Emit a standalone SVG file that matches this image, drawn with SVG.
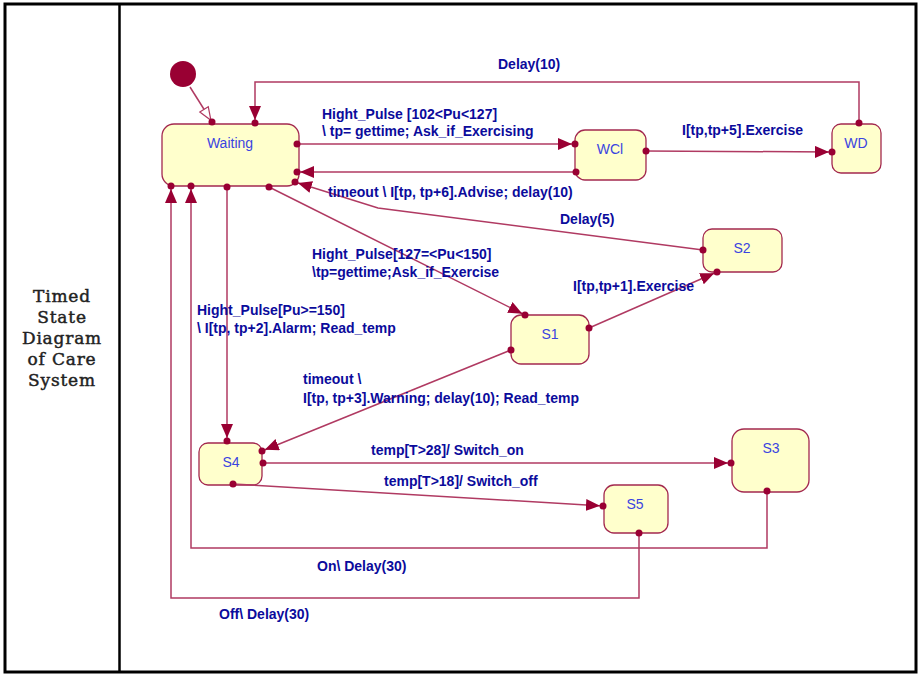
<svg xmlns="http://www.w3.org/2000/svg" width="919" height="675" viewBox="0 0 919 675">
<style>
.frame{fill:none;stroke:#000;stroke-width:3}
.node rect{fill:#ffffcc;stroke:#a3294f;stroke-width:1.3}
.node text{font-family:"Liberation Sans",Arial,sans-serif;font-size:14px;fill:#3a44e0;text-anchor:middle}
.c{fill:none;stroke:#b03a62;stroke-width:1.5}
.dot{fill:#990033}
.lbl{font-family:"Liberation Sans",Arial,sans-serif;font-size:14px;font-weight:bold;fill:#0b0b9c}
.side{font-family:"DejaVu Serif","Liberation Serif",serif;font-size:17px;fill:#222;stroke:#222;stroke-width:0.45;letter-spacing:0.8px;text-anchor:middle}
</style>
<defs>
<marker id="arr" markerUnits="userSpaceOnUse" markerWidth="20" markerHeight="14" viewBox="0 0 20 14" refX="17" refY="6" orient="auto">
<path d="M0,0 L14,6 L0,12 z" fill="#990033"/>
</marker>
<marker id="open" markerUnits="userSpaceOnUse" markerWidth="20" markerHeight="14" viewBox="0 0 20 14" refX="16" refY="6" orient="auto">
<path d="M1,1 L14,6 L1,11 z" fill="#fff" stroke="#b03a62" stroke-width="1.2"/>
</marker>
</defs>
<rect width="919" height="675" fill="#fff"/>
<rect class="frame" x="5" y="4" width="911" height="668"/>
<line x1="119.5" y1="4" x2="119.5" y2="672" stroke="#000" stroke-width="2.5"/>
<g id="title">
<text class="side" x="62" y="302">Timed</text>
<text class="side" x="62" y="323">State</text>
<text class="side" x="62" y="344">Diagram</text>
<text class="side" x="62" y="365">of Care</text>
<text class="side" x="62" y="386">System</text>
</g>
<g id="initial"><circle cx="183" cy="74" r="13" fill="#990033"/></g>
<g id="Waiting" class="node"><rect x="162" y="124" width="137" height="62" rx="12"/><text x="230" y="148">Waiting</text></g>
<g id="WCl" class="node"><rect x="575" y="130" width="71" height="50" rx="10"/><text x="610" y="154">WCl</text></g>
<g id="WD" class="node"><rect x="832" y="124" width="49" height="49" rx="9"/><text x="856" y="148">WD</text></g>
<g id="S2" class="node"><rect x="703" y="229" width="79" height="43" rx="9"/><text x="742" y="253">S2</text></g>
<g id="S1" class="node"><rect x="511" y="315" width="78" height="49" rx="10"/><text x="550" y="339">S1</text></g>
<g id="S4" class="node"><rect x="199" y="443" width="63" height="42" rx="9"/><text x="231" y="467">S4</text></g>
<g id="S3" class="node"><rect x="732" y="429" width="77" height="63" rx="12"/><text x="771" y="453">S3</text></g>
<g id="S5" class="node"><rect x="604" y="485" width="64" height="48" rx="10"/><text x="635" y="509">S5</text></g>
<g id="connectors">
<path class="c" d="M190,87 L212,122" marker-end="url(#open)"/>
<path class="c" d="M859,123 L859,82 L255,82 L255,123" marker-end="url(#arr)"/>
<path class="c" d="M297,144 L575,144" marker-end="url(#arr)"/>
<path class="c" d="M576,172 L297,172" marker-end="url(#arr)"/>
<path class="c" d="M646,151 L832,152" marker-end="url(#arr)"/>
<path class="c" d="M703,250 L378,208 L295,182" marker-end="url(#arr)"/>
<path class="c" d="M269,187 L525,315" marker-end="url(#arr)"/>
<path class="c" d="M589,328 L717,272" marker-end="url(#arr)"/>
<path class="c" d="M227,187 L227,441" marker-end="url(#arr)"/>
<path class="c" d="M511,350 L262,451" marker-end="url(#arr)"/>
<path class="c" d="M263,463 L731,463" marker-end="url(#arr)"/>
<path class="c" d="M233,484 L603,506" marker-end="url(#arr)"/>
<path class="c" d="M767,491 L767,548 L191,548 L191,186" marker-end="url(#arr)"/>
<path class="c" d="M639,533 L639,598 L171,598 L171,186" marker-end="url(#arr)"/>
<g class="dots">
<circle class="dot" cx="212" cy="122" r="3.5"/>
<circle class="dot" cx="859" cy="123" r="3.5"/>
<circle class="dot" cx="255" cy="123" r="3.5"/>
<circle class="dot" cx="297" cy="144" r="3.5"/>
<circle class="dot" cx="575" cy="144" r="3.5"/>
<circle class="dot" cx="576" cy="172" r="3.5"/>
<circle class="dot" cx="297" cy="172" r="3.5"/>
<circle class="dot" cx="646" cy="151" r="3.5"/>
<circle class="dot" cx="832" cy="152" r="3.5"/>
<circle class="dot" cx="703" cy="250" r="3.5"/>
<circle class="dot" cx="295" cy="182" r="3.5"/>
<circle class="dot" cx="269" cy="187" r="3.5"/>
<circle class="dot" cx="525" cy="315" r="3.5"/>
<circle class="dot" cx="589" cy="328" r="3.5"/>
<circle class="dot" cx="717" cy="272" r="3.5"/>
<circle class="dot" cx="227" cy="187" r="3.5"/>
<circle class="dot" cx="227" cy="441" r="3.5"/>
<circle class="dot" cx="511" cy="350" r="3.5"/>
<circle class="dot" cx="262" cy="451" r="3.5"/>
<circle class="dot" cx="263" cy="463" r="3.5"/>
<circle class="dot" cx="731" cy="463" r="3.5"/>
<circle class="dot" cx="233" cy="484" r="3.5"/>
<circle class="dot" cx="603" cy="506" r="3.5"/>
<circle class="dot" cx="767" cy="491" r="3.5"/>
<circle class="dot" cx="191" cy="186" r="3.5"/>
<circle class="dot" cx="639" cy="533" r="3.5"/>
<circle class="dot" cx="171" cy="186" r="3.5"/>
</g>
<g class="labels">
<text class="lbl" x="498" y="69">Delay(10)</text>
<text class="lbl" x="322" y="119">Hight_Pulse [102&lt;Pu&lt;127]</text>
<text class="lbl" x="322" y="136">\ tp= gettime; Ask_if_Exercising</text>
<text class="lbl" x="682" y="135">I[tp,tp+5].Exercise</text>
<text class="lbl" x="328" y="197">timeout \ I[tp, tp+6].Advise; delay(10)</text>
<text class="lbl" x="560" y="224">Delay(5)</text>
<text class="lbl" x="312" y="259">Hight_Pulse[127=&lt;Pu&lt;150]</text>
<text class="lbl" x="312" y="277">\tp=gettime;Ask_if_Exercise</text>
<text class="lbl" x="573" y="291">I[tp,tp+1].Exercise</text>
<text class="lbl" x="197" y="315">Hight_Pulse[Pu&gt;=150]</text>
<text class="lbl" x="197" y="333">\ I[tp, tp+2].Alarm; Read_temp</text>
<text class="lbl" x="303" y="384">timeout \</text>
<text class="lbl" x="303" y="403">I[tp, tp+3].Warning; delay(10); Read_temp</text>
<text class="lbl" x="371" y="455">temp[T&gt;28]/ Switch_on</text>
<text class="lbl" x="384" y="486">temp[T&gt;18]/ Switch_off</text>
<text class="lbl" x="317" y="571">On\ Delay(30)</text>
<text class="lbl" x="219" y="619">Off\ Delay(30)</text>
</g>
</g>
</svg>
